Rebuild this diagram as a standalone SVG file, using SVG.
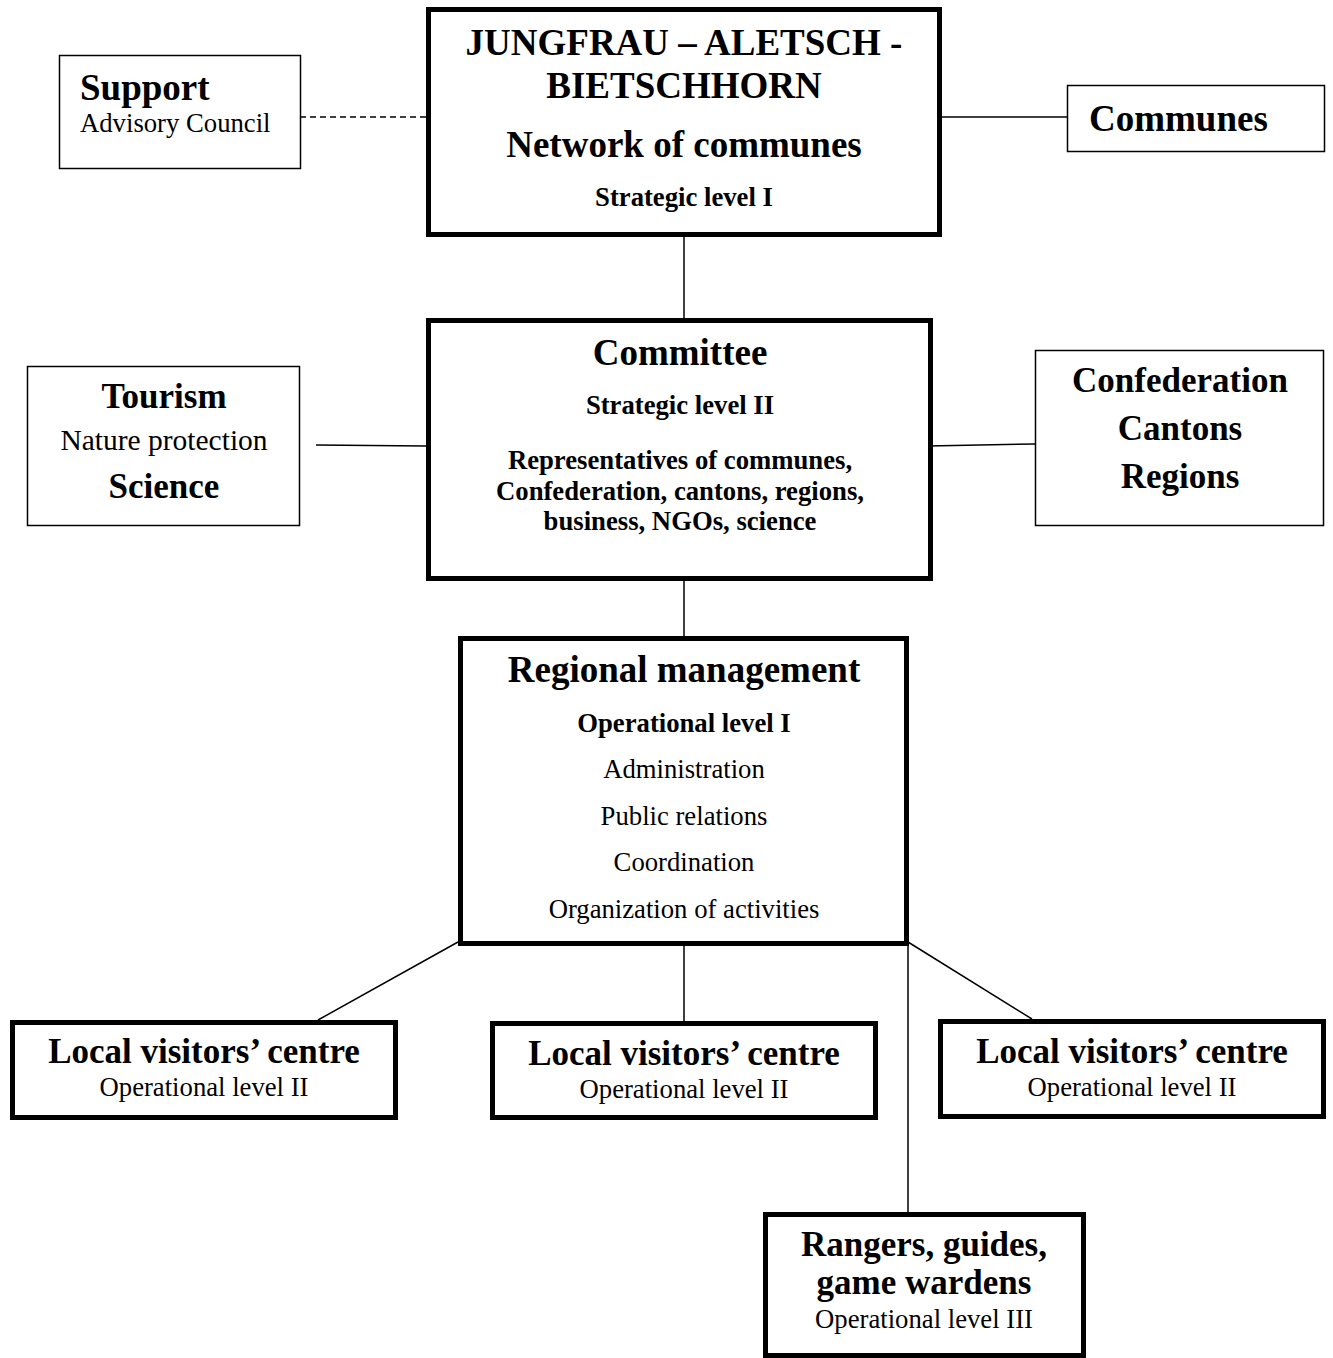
<svg xmlns="http://www.w3.org/2000/svg" width="1333" height="1358" viewBox="0 0 1333 1358">
<style>
text{font-family:"Liberation Serif","Times New Roman",serif;fill:#000;text-anchor:middle}
.b{font-weight:bold}
.h1{font-size:37px;font-weight:bold}
.h2{font-size:35px;font-weight:bold}
.s{font-size:26.7px}
.thin{fill:#fff;stroke:#000;stroke-width:1.5}
.thick{fill:#fff;stroke:#000;stroke-width:5}
.ln{stroke:#000;stroke-width:1.5;fill:none}
</style>
<rect width="1333" height="1358" fill="#fff"/>
<g id="connectors">
<line class="ln" x1="300" y1="117" x2="426" y2="117" stroke-dasharray="6,4"/>
<line class="ln" x1="942" y1="117" x2="1067" y2="117"/>
<line class="ln" x1="684" y1="228" x2="684" y2="318"/>
<line class="ln" x1="316" y1="445" x2="426" y2="446"/>
<line class="ln" x1="928" y1="446" x2="1035" y2="444"/>
<line class="ln" x1="684" y1="580" x2="684" y2="636"/>
<line class="ln" x1="458" y1="942" x2="318" y2="1020"/>
<line class="ln" x1="684" y1="940" x2="684" y2="1021"/>
<line class="ln" x1="908" y1="942" x2="1032" y2="1019"/>
<line class="ln" x1="908" y1="945" x2="908" y2="1213"/>
</g>
<g id="support">
<rect class="thin" x="59.5" y="55.5" width="241" height="113"/>
<text class="h1" x="80" y="100" style="text-anchor:start">Support</text>
<text class="s" x="80" y="132" style="text-anchor:start">Advisory Council</text>
</g>
<g id="network">
<rect class="thick" x="428.5" y="9.5" width="511" height="225"/>
<text class="h1" x="684" y="55">JUNGFRAU – ALETSCH -</text>
<text class="h1" x="684" y="98">BIETSCHHORN</text>
<text class="h1" x="684" y="157">Network of communes</text>
<text class="s b" x="684" y="206">Strategic level I</text>
</g>
<g id="communes">
<rect class="thin" x="1067.5" y="85.5" width="257" height="66"/>
<text class="h1" x="1089" y="131" style="text-anchor:start">Communes</text>
</g>
<g id="tourism">
<rect class="thin" x="27.5" y="366.5" width="272" height="159"/>
<text class="h2" x="164" y="408">Tourism</text>
<text x="164" y="450" font-size="29.5">Nature protection</text>
<text class="h2" x="164" y="498">Science</text>
</g>
<g id="committee">
<rect class="thick" x="428.5" y="320.5" width="502" height="258"/>
<text class="h1" x="680" y="365">Committee</text>
<text class="s b" x="680" y="414">Strategic level II</text>
<text class="s b" x="680" y="469">Representatives of communes,</text>
<text class="s b" x="680" y="500">Confederation, cantons, regions,</text>
<text class="s b" x="680" y="530">business, NGOs, science</text>
</g>
<g id="confederation">
<rect class="thin" x="1035.5" y="350.5" width="288" height="175"/>
<text class="h2" x="1180" y="392">Confederation</text>
<text class="h2" x="1180" y="440">Cantons</text>
<text class="h2" x="1180" y="488">Regions</text>
</g>
<g id="regional">
<rect class="thick" x="460.5" y="638.5" width="446" height="305"/>
<text class="h1" x="684" y="682">Regional management</text>
<text class="s b" x="684" y="732">Operational level I</text>
<text class="s" x="684" y="778">Administration</text>
<text class="s" x="684" y="825">Public relations</text>
<text class="s" x="684" y="871">Coordination</text>
<text class="s" x="684" y="918">Organization of activities</text>
</g>
<g id="local1">
<rect class="thick" x="12.5" y="1022.5" width="383" height="95"/>
<text class="h2" x="204" y="1063">Local visitors’ centre</text>
<text class="s" x="204" y="1096">Operational level II</text>
</g>
<g id="local2">
<rect class="thick" x="492.5" y="1023.5" width="383" height="94"/>
<text class="h2" x="684" y="1065">Local visitors’ centre</text>
<text class="s" x="684" y="1098">Operational level II</text>
</g>
<g id="local3">
<rect class="thick" x="940.5" y="1021.5" width="383" height="95"/>
<text class="h2" x="1132" y="1063">Local visitors’ centre</text>
<text class="s" x="1132" y="1096">Operational level II</text>
</g>
<g id="rangers">
<rect class="thick" x="765.5" y="1214.5" width="318" height="141"/>
<text class="h2" x="924" y="1256">Rangers, guides,</text>
<text class="h2" x="924" y="1294">game wardens</text>
<text class="s" x="924" y="1328">Operational level III</text>
</g>
</svg>
